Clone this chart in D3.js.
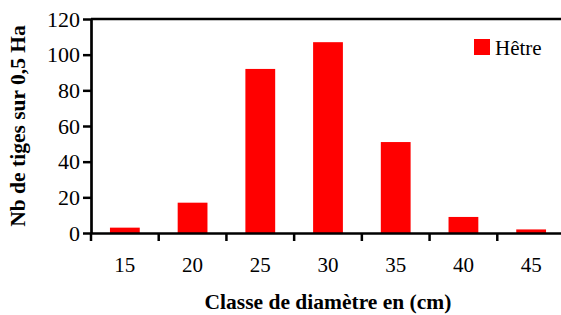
<!DOCTYPE html>
<html>
<head>
<meta charset="utf-8">
<script src="https://cdn.jsdelivr.net/npm/d3@7"></script>
<style>
  body { margin: 0; background: #fff; }
  svg text { font-family: "Liberation Serif", "Times New Roman", Times, serif; }
</style>
</head>
<body>
<div id="chart"></div>
<script>
// donnees
var classes = ["15", "20", "25", "30", "35", "40", "45"];
var hetre = [3, 17, 92, 107, 51, 9, 2];
var yTicks = [0, 20, 40, 60, 80, 100, 120];

var margin = {left: 91, top: 19, right: -4, bottom: 82};
var width = 561, height = 315;

var svg = d3.select("#chart")
  .append("svg")
  .attr("width", width)
  .attr("height", height);

var x = d3.scaleBand()
  .domain(classes)
  .range([margin.left, width - margin.right])
  .paddingInner(0.56)
  .paddingOuter(0.28);

var y = d3.scaleLinear()
  .domain([0, 120])
  .range([height - margin.bottom, margin.top]);

// barres
svg.append("g")
  .selectAll("rect")
  .data(hetre)
  .join("rect")
  .attr("fill", "#ff0000")
  .attr("x", (d, i) => x(classes[i]))
  .attr("width", x.bandwidth())
  .attr("y", d => y(d))
  .attr("height", d => y(0) - y(d));

// ligne du haut
svg.append("line")
  .attr("x1", margin.left).attr("x2", width - margin.right)
  .attr("y1", y(120)).attr("y2", y(120))
  .attr("stroke", "#000").attr("stroke-width", 2.7);

// axe Y
var yAxis = svg.append("g")
  .attr("transform", "translate(" + margin.left + ",0)")
  .call(d3.axisLeft(y).tickValues(yTicks).tickSize(8).tickPadding(3).tickSizeOuter(0));
yAxis.attr("font-family", null);
yAxis.select(".domain").attr("stroke-width", 2.7);
yAxis.selectAll(".tick line").attr("stroke-width", 2.5);
yAxis.selectAll("text").attr("font-size", 22).attr("fill", "#000");

// axe X (etiquettes au centre, graduations entre les classes)
var xAxis = svg.append("g")
  .attr("transform", "translate(0," + y(0) + ")")
  .call(d3.axisBottom(x).tickSize(0).tickPadding(24).tickSizeOuter(0));
xAxis.attr("font-family", null);
xAxis.select(".domain").attr("stroke-width", 2.7);
xAxis.selectAll("text").attr("font-size", 21).attr("fill", "#000");

var bornes = classes.map(c => x(c) + x.bandwidth() / 2 - x.step() / 2);
bornes.push(bornes[bornes.length - 1] + x.step());
svg.append("g")
  .selectAll("line")
  .data(bornes)
  .join("line")
  .attr("x1", d => d).attr("x2", d => d)
  .attr("y1", y(0)).attr("y2", y(0) + 8)
  .attr("stroke", "#000").attr("stroke-width", 2.5);

// titres
svg.append("text")
  .attr("x", (margin.left + width - margin.right) / 2)
  .attr("y", 309)
  .attr("text-anchor", "middle")
  .attr("font-size", 21.5)
  .attr("font-weight", "bold")
  .text("Classe de diamètre en (cm)");

svg.append("text")
  .attr("transform", "translate(25," + (y(0) + y(120)) / 2 + ") rotate(-90)")
  .attr("text-anchor", "middle")
  .attr("font-size", 21.5)
  .attr("font-weight", "bold")
  .text("Nb de tiges sur 0,5 Ha");

// legende
var leg = svg.append("g").attr("transform", "translate(474,39)");
leg.append("rect").attr("width", 16).attr("height", 16).attr("fill", "#ff0000");
leg.append("text").attr("x", 21).attr("y", 16).attr("font-size", 21).text("Hêtre");
</script>
</body>
</html>
